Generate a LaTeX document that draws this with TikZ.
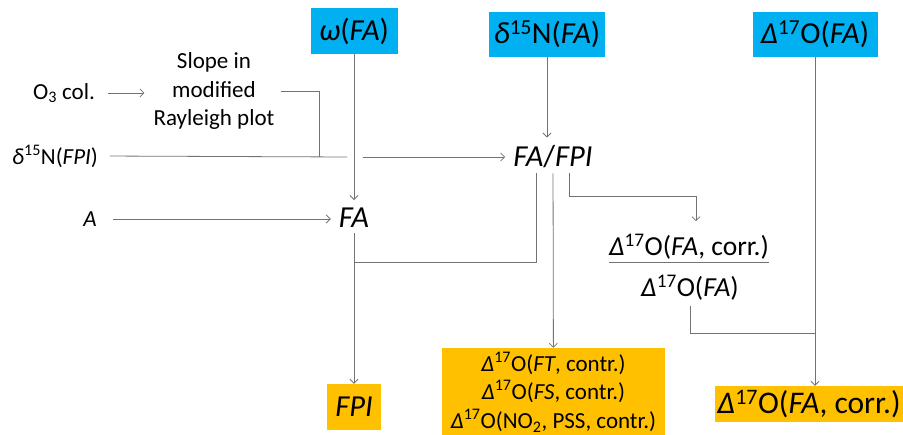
\documentclass[tikz,border=0pt]{standalone}
\usepackage{fontspec}
\setmainfont{Carlito}
\usepackage{tikz}
\usetikzlibrary{arrows.meta}
\definecolor{skyblue}{HTML}{00B0F0}
\definecolor{amber}{HTML}{FFC000}
\tikzset{
  line/.style={draw=black!55, line width=0.8pt},
  arr/.style={line, -{Straight Barb[length=4pt,width=8pt]}},
  txt/.style={inner sep=2pt, font=\txtsmall},
  bigtxt/.style={inner sep=2pt, font=\txtbig},
  bluebox/.style={fill=skyblue, inner sep=0pt, font=\txtbig},
  orangebox/.style={fill=amber, inner sep=0pt, font=\txtbig}
}
\newcommand\txtsmall{\fontsize{23}{28.5}\selectfont}
\newcommand\txtmid{\fontsize{27.5}{33}\selectfont}
\newcommand\txtbig{\fontsize{30.5}{36}\selectfont}
\newcommand\txthuge{\fontsize{31.5}{37}\selectfont}
\newcommand\dsev{\textit{Δ}\textsuperscript{17}O}
\newcommand\dfif{\textit{δ}\textsuperscript{15}N}

\begin{document}
\begin{tikzpicture}[x=1pt, y=-1pt]
\useasboundingbox (0,0) rectangle (903,435);

	% measured quantities on top
	\node[bluebox, minimum width=87, minimum height=46] (omega) at (354,31) {\textit{ω}(\textit{FA})};
	\node[bluebox, minimum width=116, minimum height=45] (d15fa) at (547,34.5) {\dfif(\textit{FA})};
	\node[bluebox, minimum width=125, minimum height=45] (d17fa) at (815,34.5) {\dsev(\textit{FA})};

	% inputs on the left
	\node[txt] (o3) at (64,93) {O\textsubscript{3} col.};
	\node[txt, align=center] (slope) at (214,91) {Slope in\\modified\\Rayleigh plot};
	\node[txt] (dfpi) at (55,156) {\dfif(\textit{FPI})};
	\node[txt] (a) at (90,219) {\textit{A}};

	% intermediate quantities
	\node[bigtxt] (fafpi) at (553,157) {\textit{FA}/\textit{FPI}};
	\node[bigtxt] (fa) at (354,218) {\textit{FA}};
	\node[font=\txtmid, inner xsep=0pt, inner ysep=3pt] (rnum) at (689,247) {\dsev(\textit{FA}, corr.)};
	\node[font=\txtmid, inner sep=2pt] (rden) at (690,288) {\dsev(\textit{FA})};
	\draw[line] (rnum.south west) -- (rnum.south east);

	% results at the bottom
	\node[orangebox, minimum width=54, minimum height=46] (fpi) at (354,407) {\textit{FPI}};
	\node[orangebox, font=\txtsmall, align=center, minimum width=223, minimum height=88] (contr) at (553.5,392)
	  {\dsev(\textit{FT}, contr.)\\\dsev(\textit{FS}, contr.)\\\dsev(NO\textsubscript{2}, PSS, contr.)};
	\node[orangebox, font=\txthuge, minimum width=188, minimum height=36] (corr) at (809,404) {\dsev(\textit{FA}, corr.)};

	\coordinate (gapL) at (347,157);
	\coordinate (gapR) at (363,157);
	\coordinate (join) at (319,157);
	\coordinate (merge) at (354,262);
	\coordinate (join2) at (815,333);

	% connectors
	\draw[arr, shorten <=11pt, shorten >=7pt] (o3.east) -- (o3.east -| slope.west);
	\draw[line, shorten <=4pt] (slope.east) -| (join);
	\draw[line, shorten <=10pt] (dfpi.east) -- (gapL);
	\draw[arr, shorten >=6pt] (gapR) -- (gapR -| fafpi.west);
	\draw[arr, shorten <=14pt, shorten >=6pt] (a.east) -- (a.east -| fa.west);
	\draw[arr, shorten >=6pt] (omega) -- (fa);
	\draw[arr, shorten >=6pt] (d15fa) -- (d15fa |- fafpi.north);
	\draw[arr, shorten <=3pt] (fa) -- (fpi);
	\draw[line, shorten <=3pt] ([xshift=-17pt]fafpi.south) |- (merge);
	\draw[arr, shorten <=3pt] (fafpi) -- (contr);
	\draw[arr, shorten <=3pt, shorten >=10pt] ([xshift=16pt]fafpi.south) -- ++(0,26) -| ([xshift=7pt]rnum.north);
	\draw[line, shorten <=3pt] (rden.south) |- (join2);
	\draw[arr] (d17fa) -- (d17fa |- corr.north);

\end{tikzpicture}
\end{document}
